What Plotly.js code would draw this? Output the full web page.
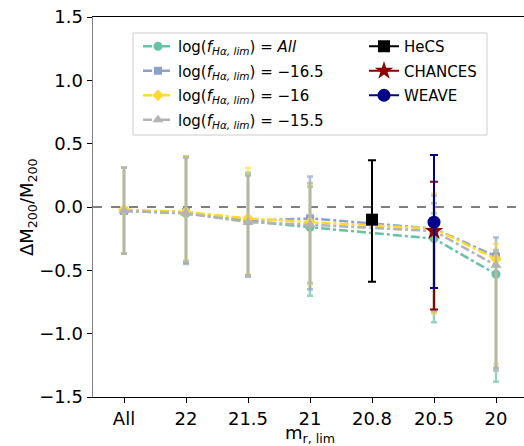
<!DOCTYPE html>
<html>
<head>
<meta charset="utf-8">
<script src="https://cdn.plot.ly/plotly-3.0.1.min.js"></script>
<style>html,body{margin:0;padding:0;overflow:hidden;background:#fff;}#chart{width:530px;height:446px;}</style>
</head>
<body>
<div id="chart"></div>
<script>
// Categories
const categories = ['All', '22', '21.5', '21', '20.8', '20.5', '20'];
const fhX = ['All', '22', '21.5', '21', '20.5', '20'];

// log(fHa,lim) = All
const allY = [-0.03, -0.05, -0.11, -0.16, -0.25, -0.53];
const allUp = [0.31, 0.40, 0.27, 0.16, -0.05, -0.36];
const allLo = [-0.37, -0.44, -0.54, -0.70, -0.91, -1.38];
// log(fHa,lim) = -16.5
const m165Y = [-0.03, -0.04, -0.11, -0.09, -0.17, -0.39];
const m165Up = [0.31, 0.39, 0.25, 0.24, 0.03, -0.24];
const m165Lo = [-0.37, -0.45, -0.55, -0.65, -0.83, -1.27];
// log(fHa,lim) = -16
const m16Y = [-0.02, -0.04, -0.09, -0.12, -0.17, -0.41];
const m16Up = [0.31, 0.40, 0.31, 0.17, 0.11, -0.29];
const m16Lo = [-0.37, -0.42, -0.53, -0.61, -0.84, -1.24];
// log(fHa,lim) = -15.5
const m155Y = [-0.03, -0.05, -0.12, -0.14, -0.19, -0.46];
const m155Up = [0.31, 0.39, 0.25, 0.19, 0.09, -0.34];
const m155Lo = [-0.37, -0.43, -0.54, -0.60, -0.82, -1.29];

// Surveys
const hecsX = ['20.8'], hecsY = [-0.10], hecsUp = [0.37], hecsLo = [-0.59];
const chancesX = ['20.5'], chancesY = [-0.19], chancesUp = [0.20], chancesLo = [-0.81];
const weaveX = ['20.5'], weaveY = [-0.12], weaveUp = [0.41], weaveLo = [-0.64];

const yTicks = [-1.5, -1.0, -0.5, 0.0, 0.5, 1.0, 1.5];

function errs(y, up, lo) {
  return {
    plus: y.map((v, i) => up[i] - v),
    minus: y.map((v, i) => v - lo[i])
  };
}

function fhTrace(name, y, up, lo, color, errColor, symbol, size, group) {
  const e = errs(y, up, lo);
  return {
    type: 'scatter', mode: 'lines+markers', x: fhX, y: y, name: name,
    legend: 'legend', legendgroup: group,
    line: {color: color, width: 2.5, dash: 'dashdot'},
    marker: {color: color, symbol: symbol, size: size},
    error_y: {type: 'data', symmetric: false, array: e.plus, arrayminus: e.minus,
      color: errColor, thickness: 2.5, width: 3}
  };
}

function surveyTrace(name, x, y, up, lo, color, symbol, size) {
  const e = errs(y, up, lo);
  return {
    type: 'scatter', mode: 'lines+markers', x: x, y: y, name: name,
    legend: 'legend2', legendgroup: name,
    line: {color: color, width: 2},
    marker: {color: color, symbol: symbol, size: size},
    error_y: {type: 'data', symmetric: false, array: e.plus, arrayminus: e.minus,
      color: color, thickness: 2, width: 4}
  };
}

const lbl = (v) => 'log(<i>f</i><sub><i>H\u03b1, lim</i></sub>) = ' + v;

const traces = [
  fhTrace(lbl('<i>All</i>'), allY, allUp, allLo, '#66c2a5', 'rgba(102,194,165,0.7)', 'circle', 9, 'g1'),
  fhTrace(lbl('\u221216.5'), m165Y, m165Up, m165Lo, '#8da0cb', 'rgba(141,160,203,0.7)', 'square', 8, 'g2'),
  fhTrace(lbl('\u221216'), m16Y, m16Up, m16Lo, '#ffd92f', 'rgba(255,217,47,0.6)', 'diamond', 9, 'g3'),
  fhTrace(lbl('\u221215.5'), m155Y, m155Up, m155Lo, '#b3b3b3', 'rgba(179,179,179,0.8)', 'triangle-up', 10, 'g4'),
  surveyTrace('HeCS', hecsX, hecsY, hecsUp, hecsLo, '#000000', 'square', 12),
  surveyTrace('CHANCES', chancesX, chancesY, chancesUp, chancesLo, '#8b0000', 'star', 14),
  surveyTrace('WEAVE', weaveX, weaveY, weaveUp, weaveLo, '#00008b', 'circle', 13)
];

const fontFam = 'DejaVu Sans, sans-serif';

const layout = {
  width: 530, height: 446,
  margin: {l: 93, r: 3, t: 17, b: 49},
  paper_bgcolor: '#fff', plot_bgcolor: '#fff',
  font: {family: fontFam, size: 18, color: '#000'},
  showlegend: true,
  xaxis: {
    type: 'category', categoryorder: 'array', categoryarray: categories,
    range: [-0.5, 6.5], showgrid: false, zeroline: false,
    showline: true, linecolor: '#000', linewidth: 1, mirror: true,
    ticks: 'outside', ticklen: 5, tickwidth: 1, tickcolor: '#000',
    tickfont: {size: 18},
    title: {text: 'm<sub>r, lim</sub>', font: {size: 18}, standoff: 8}
  },
  yaxis: {
    range: [-1.5, 1.5], tickvals: yTicks, tickformat: '.1f',
    showgrid: false, zeroline: false,
    showline: true, linecolor: '#808080', linewidth: 1.5,
    ticks: 'outside', ticklen: 5, tickwidth: 1, tickcolor: '#000',
    tickfont: {size: 18}
  },
  annotations: [
    {text: '\u0394M<sub>200</sub>/M<sub>200</sub>', xref: 'paper', yref: 'paper',
      x: (28 - 93) / 434, y: 0.5, xanchor: 'center', yanchor: 'middle',
      textangle: -90, showarrow: false, font: {family: fontFam, size: 18, color: '#000'}}
  ],
  shapes: [
    {type: 'line', xref: 'paper', yref: 'y', x0: 0, x1: 1, y0: 0, y1: 0,
      line: {color: '#555555', width: 1.5, dash: 'dash'}, layer: 'below'},
    {type: 'rect', xref: 'paper', yref: 'paper',
      x0: (133 - 93) / 434, x1: (487 - 93) / 434,
      y0: (397 - 135) / 380, y1: (397 - 33) / 380,
      line: {color: '#cccccc', width: 1}, fillcolor: 'rgba(255,255,255,0.8)', layer: 'above'}
  ],
  legend: {
    x: (138 - 93) / 434, y: (397 - 30) / 380, xanchor: 'left', yanchor: 'top',
    bgcolor: 'rgba(0,0,0,0)', borderwidth: 0,
    font: {family: fontFam, size: 15},
    traceorder: 'grouped', tracegroupgap: 2, itemwidth: 30
  },
  legend2: {
    x: (364 - 93) / 434, y: (397 - 30) / 380, xanchor: 'left', yanchor: 'top',
    bgcolor: 'rgba(0,0,0,0)', borderwidth: 0,
    font: {family: fontFam, size: 15},
    traceorder: 'grouped', tracegroupgap: 2, itemwidth: 30
  }
};

Plotly.newPlot('chart', traces, layout, {displayModeBar: false, staticPlot: true});
</script>
</body>
</html>
